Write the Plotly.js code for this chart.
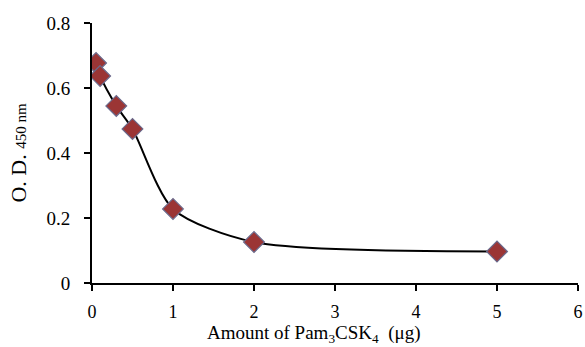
<!DOCTYPE html>
<html>
<head>
<meta charset="utf-8">
<script src="https://cdn.plot.ly/plotly-3.0.1.min.js"></script>
<style>html,body{margin:0;padding:0;background:#fff;}#chart{width:585px;height:347px;}</style>
</head>
<body>
<div id="chart"></div>
<script>
const amount = [0.05, 0.1, 0.3, 0.5, 1, 2, 5];
const od450 = [0.677, 0.637, 0.545, 0.474, 0.228, 0.126, 0.097];
const xTicks = [0, 1, 2, 3, 4, 5, 6];
const yTicks = [0, 0.2, 0.4, 0.6, 0.8];
const yTickText = ['0', '0.2', '0.4', '0.6', '0.8'];

const font = {family: 'Liberation Serif', color: '#000'};

const traces = [
  {x: amount, y: od450, type: 'scatter', mode: 'lines',
   line: {color: '#000', width: 2, shape: 'spline', smoothing: 0.75},
   hoverinfo: 'skip', showlegend: false},
  {x: amount, y: od450, type: 'scatter', mode: 'markers',
   marker: {symbol: 'diamond', size: 16, color: '#9b3535', line: {color: '#6a6a8c', width: 1.2}},
   showlegend: false}
];

const layout = {
  width: 585, height: 347,
  margin: {l: 92, r: 7, t: 23, b: 64},
  paper_bgcolor: '#fff', plot_bgcolor: '#fff',
  font: Object.assign({size: 19}, font),
  showlegend: false,
  xaxis: {range: [0, 6], tickvals: xTicks, ticktext: xTicks.map(String),
    showgrid: false, zeroline: false, showline: true, linecolor: '#000', linewidth: 2,
    ticks: 'outside', ticklen: 6, tickwidth: 2, tickcolor: '#000',
    ticklabelstandoff: 5, tickfont: Object.assign({size: 18}, font)},
  yaxis: {range: [0, 0.8], tickvals: yTicks, ticktext: yTickText,
    showgrid: false, zeroline: false, showline: true, linecolor: '#000', linewidth: 2,
    ticks: 'outside', ticklen: 6, tickwidth: 2, tickcolor: '#000',
    ticklabelstandoff: 10, tickfont: Object.assign({size: 19}, font),
    title: {text: 'O. D. <span style="font-size:15px">450 nm</span>', standoff: 14,
      font: Object.assign({size: 22}, font)}},
  annotations: [
    {text: 'Amount of Pam<sub>3</sub>CSK<sub>4</sub>  (μg)', xref: 'paper', yref: 'paper',
     x: 0.457, y: -0.197, xanchor: 'center', yanchor: 'middle', showarrow: false,
     font: Object.assign({size: 19}, font)}
  ]
};

Plotly.newPlot('chart', traces, layout, {displayModeBar: false, staticPlot: true});
</script>
</body>
</html>
